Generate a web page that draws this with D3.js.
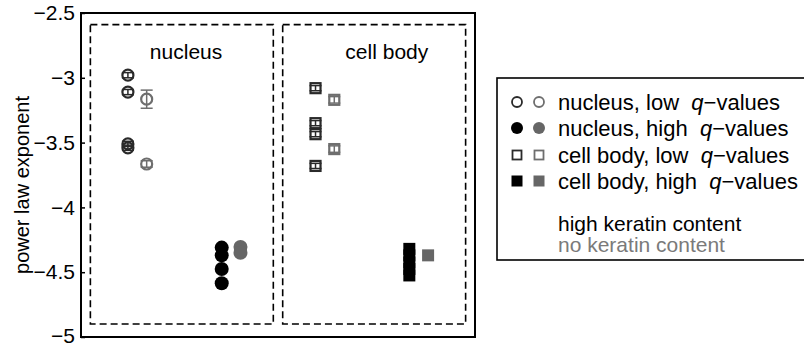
<!DOCTYPE html>
<html><head><meta charset="utf-8">
<script src="https://cdn.jsdelivr.net/npm/d3@7"></script>
<style>
html,body{margin:0;padding:0;background:#fff;}
text{font-family:"Liberation Sans",Arial,Helvetica,sans-serif;}
</style></head>
<body>
<svg id="chart" width="804" height="346"></svg>
<script>
// ---- data ----
const yTicks = [-2.5, -3, -3.5, -4, -4.5, -5];
const yTickLabels = ["\u22122.5", "\u22123", "\u22123.5", "\u22124", "\u22124.5", "\u22125"];
const groupX = [1, 2, 3, 4];            // nucleus-low, nucleus-high, cell-low, cell-high
const grayOffset = 0.2;
const panelLabels = ["nucleus", "cell body"];
const panelLabelX = [1.62, 3.76];
const panelBoxesX = [[0.6, 2.55], [2.65, 4.6]];
const panelBoxY = [-2.59, -4.9];

const nucLowDark = [-2.98, -3.11, -3.51, -3.54];
const nucLowDarkErr = [0.02, 0.02, 0.02, 0.02];
const nucLowGray = [-3.165, -3.665];
const nucLowGrayErr = [0.07, 0.025];
const nucHighDark = [-4.31, -4.37, -4.475, -4.585];
const nucHighGray = [-4.305, -4.35];
const cellLowDark = [-3.08, -3.35, -3.435, -3.68];
const cellLowDarkErr = [0.02, 0.02, 0.02, 0.02];
const cellLowGray = [-3.17, -3.55];
const cellLowGrayErr = [0.025, 0.025];
const cellHighDark = [-4.32, -4.37, -4.425, -4.475, -4.525];
const cellHighGray = [-4.37];

const legendLabels = ["nucleus, low ", "nucleus, high ", "cell body, low ", "cell body, high "];
const noteLabels = ["high keratin content", "no keratin content"];

const DARK = "#2a2a2a", BLACK = "#000", GRAY_OPEN = "#6e6e6e", GRAY_FILL = "#666";

// ---- layout ----
const svg = d3.select("#chart");
const x = d3.scaleLinear().domain([0.5, 4.7]).range([81, 475]);
const y = d3.scaleLinear().domain([-2.5, -5]).range([13, 337]);

// y axis
const yAxis = d3.axisLeft(y).tickValues(yTicks).tickSize(-4).tickPadding(6)
  .tickFormat((d, i) => yTickLabels[i]);
const gy = svg.append("g").attr("transform", `translate(${x(0.5)},0)`).call(yAxis);
gy.select(".domain").remove();
gy.selectAll(".tick line").attr("stroke", "#000").attr("stroke-width", 1.5);
gy.selectAll(".tick text").attr("font-size", 21).attr("fill", "#000")
  .attr("font-family", "Liberation Sans, Arial, sans-serif")
  .attr("dy", (d, i) => i === yTicks.length - 1 ? "0.28em" : "0.32em");

// axis box
svg.append("rect").attr("x", x(0.5)).attr("y", y(-2.5))
  .attr("width", x(4.7) - x(0.5)).attr("height", y(-5) - y(-2.5))
  .attr("fill", "none").attr("stroke", "#000").attr("stroke-width", 2);

// y label
svg.append("text").attr("transform", `translate(29,185) rotate(-90)`)
  .attr("text-anchor", "middle").attr("font-size", 20).text("power law exponent");

// panel dashed boxes
panelBoxesX.forEach(b => {
  svg.append("rect").attr("x", x(b[0])).attr("y", y(panelBoxY[0]))
    .attr("width", x(b[1]) - x(b[0])).attr("height", y(panelBoxY[1]) - y(panelBoxY[0]))
    .attr("fill", "none").attr("stroke", "#000").attr("stroke-width", 1.6)
    .attr("stroke-dasharray", "7,4");
});
panelLabels.forEach((t, i) => {
  svg.append("text").attr("x", x(panelLabelX[i])).attr("y", y(-2.855))
    .attr("text-anchor", "middle").attr("font-size", 21).text(t);
});

// markers
function errbars(xv, vals, errs, color) {
  vals.forEach((v, i) => {
    const e = errs[i], cx = x(xv), cw = 6;
    svg.append("line").attr("x1", cx).attr("x2", cx).attr("y1", y(v - e)).attr("y2", y(v + e))
      .attr("stroke", color).attr("stroke-width", 1.5);
    [v - e, v + e].forEach(vv => svg.append("line").attr("x1", cx - cw).attr("x2", cx + cw)
      .attr("y1", y(vv)).attr("y2", y(vv)).attr("stroke", color).attr("stroke-width", 1.5));
  });
}
function circles(xv, vals, r, fill, stroke, sw) {
  svg.append("g").selectAll("circle").data(vals).join("circle")
    .attr("cx", x(xv)).attr("cy", d => y(d)).attr("r", r)
    .attr("fill", fill).attr("stroke", stroke).attr("stroke-width", sw);
}
function squares(xv, vals, s, fill, stroke, sw) {
  svg.append("g").selectAll("rect").data(vals).join("rect")
    .attr("x", x(xv) - s / 2).attr("y", d => y(d) - s / 2).attr("width", s).attr("height", s)
    .attr("fill", fill).attr("stroke", stroke).attr("stroke-width", sw);
}

// nucleus, low q
errbars(groupX[0], nucLowDark, nucLowDarkErr, DARK);
circles(groupX[0], nucLowDark, 5.5, "none", DARK, 2.2);
errbars(groupX[0] + grayOffset, nucLowGray, nucLowGrayErr, GRAY_OPEN);
circles(groupX[0] + grayOffset, nucLowGray, 5.5, "none", GRAY_OPEN, 2.2);
// nucleus, high q
circles(groupX[1], nucHighDark, 7, BLACK, BLACK, 0);
circles(groupX[1] + grayOffset, nucHighGray, 7, GRAY_FILL, GRAY_FILL, 0);
// cell body, low q
errbars(groupX[2], cellLowDark, cellLowDarkErr, DARK);
squares(groupX[2], cellLowDark, 10, "none", DARK, 2.2);
errbars(groupX[2] + grayOffset, cellLowGray, cellLowGrayErr, GRAY_OPEN);
squares(groupX[2] + grayOffset, cellLowGray, 10, "none", GRAY_OPEN, 2.2);
// cell body, high q
squares(groupX[3], cellHighDark, 12, BLACK, BLACK, 0);
squares(groupX[3] + grayOffset, cellHighGray, 12, GRAY_FILL, GRAY_FILL, 0);

// legend
const lg = svg.append("g");
lg.append("rect").attr("x", 497).attr("y", 78).attr("width", 320).attr("height", 182)
  .attr("fill", "#fff").attr("stroke", "#000").attr("stroke-width", 1.6);
const rowY = [102, 128, 155, 181];
const mx = [517, 539];
const legSpecs = [
  {shape: "circle", fills: ["none", "none"], strokes: [DARK, GRAY_OPEN]},
  {shape: "circle", fills: [BLACK, GRAY_FILL], strokes: [BLACK, GRAY_FILL]},
  {shape: "square", fills: ["none", "none"], strokes: [DARK, GRAY_OPEN]},
  {shape: "square", fills: [BLACK, GRAY_FILL], strokes: [BLACK, GRAY_FILL]}
];
legendLabels.forEach((lab, i) => {
  const sp = legSpecs[i];
  [0, 1].forEach(j => {
    const filled = sp.fills[j] !== "none";
    if (sp.shape === "circle") {
      lg.append("circle").attr("cx", mx[j]).attr("cy", rowY[i]).attr("r", filled ? 6 : 5)
        .attr("fill", sp.fills[j]).attr("stroke", sp.strokes[j]).attr("stroke-width", filled ? 0 : 1.8);
    } else {
      const s = filled ? 11 : 9;
      lg.append("rect").attr("x", mx[j] - s / 2).attr("y", rowY[i] - s / 2).attr("width", s).attr("height", s)
        .attr("fill", sp.fills[j]).attr("stroke", sp.strokes[j]).attr("stroke-width", filled ? 0 : 1.8);
    }
  });
  const t = lg.append("text").attr("x", 558).attr("y", rowY[i] + 7.5).attr("font-size", 22);
  t.append("tspan").text(lab + "\u00a0");
  t.append("tspan").attr("font-style", "italic").text("q");
  t.append("tspan").text("\u2212values");
});
lg.append("text").attr("x", 558).attr("y", 231).attr("font-size", 21).attr("fill", "#000").text(noteLabels[0]);
lg.append("text").attr("x", 558).attr("y", 252).attr("font-size", 21).attr("fill", "#7a7a7a").text(noteLabels[1]);
</script>
</body></html>
